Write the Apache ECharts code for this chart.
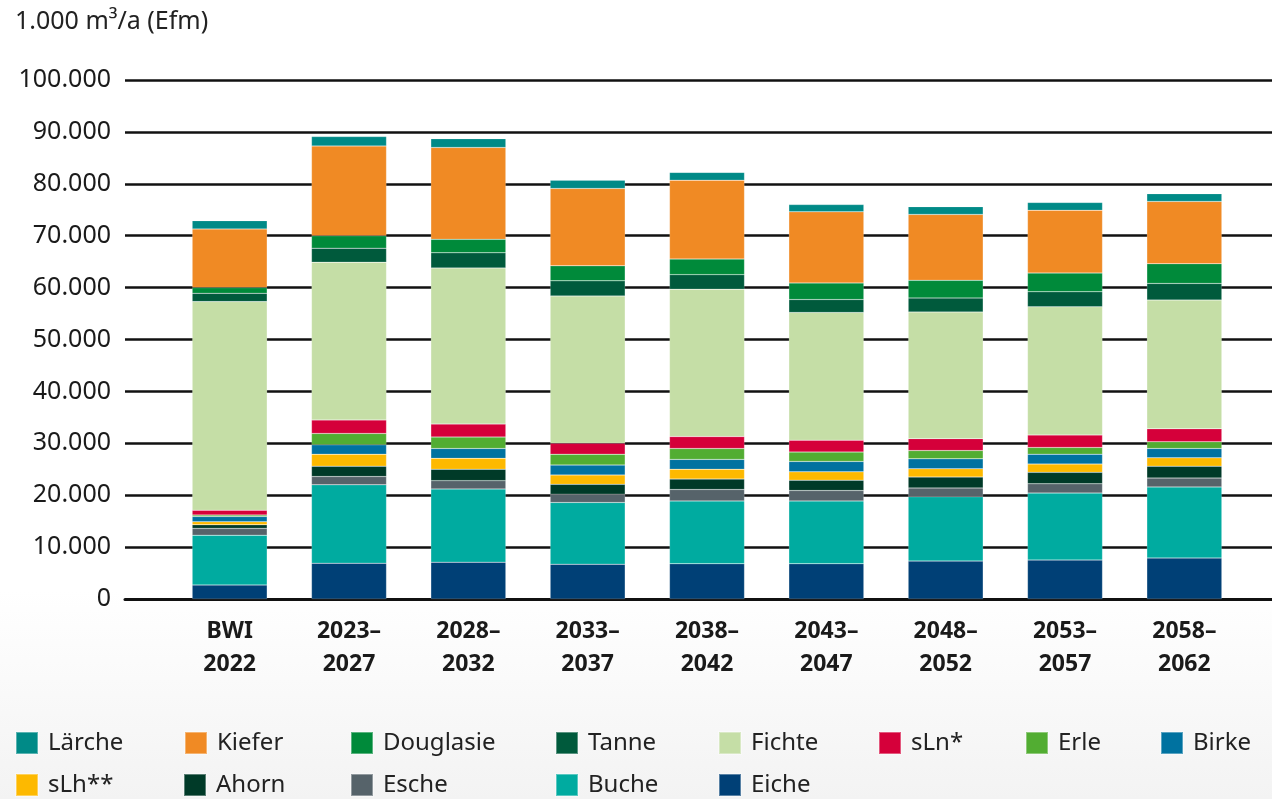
<!DOCTYPE html>
<html>
<head>
<meta charset="utf-8">
<script src="https://cdn.jsdelivr.net/npm/echarts@6/dist/echarts.min.js"></script>
<style>
html,body{margin:0;padding:0;background:#fff}
#main{width:1272px;height:799px}
</style>
</head>
<body>
<div id="main"></div>
<script>
var categories = ['BWI\n2022', '2023–\n2027', '2028–\n2032', '2033–\n2037', '2038–\n2042', '2043–\n2047', '2048–\n2052', '2053–\n2057', '2058–\n2062'];
// Werte in 1.000 m³/a, von unten nach oben gestapelt
var eiche     = [2700, 6900, 7100, 6700, 6800, 6800, 7300, 7500, 7900];
var buche     = [9600, 15100, 14100, 11900, 12100, 12100, 12400, 12900, 13700];
var esche     = [1300, 1600, 1600, 1600, 2200, 2000, 1700, 1800, 1700];
var ahorn     = [700, 2000, 2200, 1900, 2000, 2000, 2100, 2200, 2300];
var sLh       = [600, 2300, 2100, 1800, 1900, 1600, 1600, 1600, 1600];
var birke     = [1000, 1800, 1900, 1900, 1900, 2000, 1900, 1900, 1800];
var erle      = [300, 2200, 2200, 2100, 2100, 1800, 1600, 1300, 1300];
var sLn       = [900, 2600, 2500, 2100, 2300, 2300, 2300, 2400, 2500];
var fichte    = [40200, 30400, 30100, 28400, 28400, 24600, 24400, 24700, 24800];
var tanne     = [1600, 2700, 2900, 2900, 2800, 2500, 2700, 2900, 3200];
var douglasie = [1100, 2400, 2600, 2900, 3000, 3200, 3400, 3600, 3800];
var kiefer    = [11300, 17300, 17700, 14900, 15200, 13700, 12700, 12100, 12000];
var laerche   = [1600, 1800, 1700, 1600, 1500, 1400, 1500, 1500, 1500];

var font = 'Noto Sans';

function fmt(v) {
    return String(v).replace(/\B(?=(\d{3})+(?!\d))/g, '.');
}

function bar(name, data, color) {
    return {
        name: name,
        type: 'bar',
        stack: 'total',
        xAxisIndex: 1,
        yAxisIndex: 1,
        barWidth: 75,
        data: data,
        itemStyle: {color: color, borderColor: 'rgba(255,255,255,0.35)', borderWidth: 0.5}
    };
}

// je Legendeneintrag eine eigene Legende, damit die Spalten wie im Original sitzen
function legendItem(name, left, row) {
    return {
        left: left,
        top: row === 0 ? 731 : 773,
        padding: 0,
        itemWidth: 22,
        itemHeight: 22,
        icon: 'rect',
        selectedMode: false,
        data: [name],
        textStyle: {fontFamily: font, fontSize: 24, color: '#222', padding: [0, 0, 0, 5]}
    };
}

var chart = echarts.init(document.getElementById('main'));
var option = {
    backgroundColor: {
        type: 'linear', x: 0, y: 0, x2: 0, y2: 1,
        colorStops: [{offset: 0, color: '#ffffff'}, {offset: 0.74, color: '#ffffff'}, {offset: 1, color: '#f3f3f3'}]
    },
    animation: false,
    title: {
        text: '1.000 m³/a (Efm)',
        left: 10,
        top: 4,
        textStyle: {fontFamily: font, fontSize: 25, fontWeight: 'normal', color: '#222'}
    },
    legend: [
        legendItem('Lärche', 15, 0),
        legendItem('Kiefer', 184, 0),
        legendItem('Douglasie', 350, 0),
        legendItem('Tanne', 555, 0),
        legendItem('Fichte', 718, 0),
        legendItem('sLn*', 878, 0),
        legendItem('Erle', 1025, 0),
        legendItem('Birke', 1160, 0),
        legendItem('sLh**', 15, 1),
        legendItem('Ahorn', 183, 1),
        legendItem('Esche', 350, 1),
        legendItem('Buche', 555, 1),
        legendItem('Eiche', 718, 1)
    ],
    grid: [
        {left: 125, right: 0, top: 80, bottom: 200},
        {left: 170, right: 28, top: 80, bottom: 200}
    ],
    xAxis: [
        {
            gridIndex: 0, type: 'value', min: 0, max: 1,
            axisLine: {show: true, onZero: false, lineStyle: {color: '#111', width: 3}},
            axisTick: {show: false}, axisLabel: {show: false}, splitLine: {show: false}
        },
        {
            gridIndex: 1, type: 'category', data: categories,
            axisLine: {show: false}, axisTick: {show: false},
            axisLabel: {fontFamily: font, fontSize: 23, fontWeight: 'bold', color: '#1a1a1a', lineHeight: 33, margin: 16}
        }
    ],
    yAxis: [
        {
            gridIndex: 0, type: 'value', min: 0, max: 100000, interval: 10000,
            axisLine: {show: false}, axisTick: {show: false},
            axisLabel: {fontFamily: font, fontSize: 25, color: '#1a1a1a', margin: 14, formatter: fmt},
            splitLine: {lineStyle: {color: '#111', width: 2.5}}
        },
        {gridIndex: 1, type: 'value', min: 0, max: 100000, show: false}
    ],
    series: [
        bar('Eiche', eiche, '#004076'),
        bar('Buche', buche, '#00aba0'),
        bar('Esche', esche, '#56636a'),
        bar('Ahorn', ahorn, '#003a28'),
        bar('sLh**', sLh, '#fdb900'),
        bar('Birke', birke, '#0072a0'),
        bar('Erle', erle, '#52ad32'),
        bar('sLn*', sLn, '#d5003a'),
        bar('Fichte', fichte, '#c5dea6'),
        bar('Tanne', tanne, '#005a3c'),
        bar('Douglasie', douglasie, '#008a3a'),
        bar('Kiefer', kiefer, '#f08a24'),
        bar('Lärche', laerche, '#008a87')
    ]
};
chart.setOption(option);
</script>
</body>
</html>
